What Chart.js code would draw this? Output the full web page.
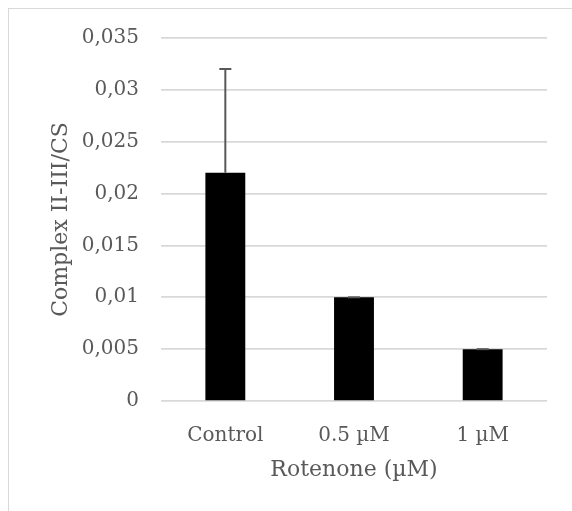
<!DOCTYPE html>
<html>
<head>
<meta charset="utf-8">
<script src="https://cdn.jsdelivr.net/npm/chart.js@4"></script>
<style>
  html, body { margin: 0; padding: 0; background: #fff; overflow: hidden; }
  #frame { position: absolute; left: 8px; top: 8px; width: 600px; height: 540px; border: 1px solid #d9d9d9; }
  #chart { position: absolute; left: 0; top: 0; }
</style>
</head>
<body>
<div id="frame"></div>
<canvas id="chart" width="572" height="511"></canvas>
<script>
const categories = ['Control', '0.5 µM', '1 µM'];
const values = [0.022, 0.01, 0.005];
const errorsUp = [0.01, 0, 0];
const yTicks = [0, 0.005, 0.01, 0.015, 0.02, 0.025, 0.03, 0.035];

const textColor = '#595959';
const font = 'DejaVu Serif';

// draws the upper error bars with caps
const errorBars = {
    id: 'errorBars',
    afterDatasetsDraw(chart) {
        const ctx = chart.ctx;
        const y = chart.scales.y;
        const meta = chart.getDatasetMeta(0);
        ctx.save();
        ctx.strokeStyle = '#595959';
        ctx.lineWidth = 2;
        meta.data.forEach((bar, i) => {
            const top = y.getPixelForValue(values[i] + errorsUp[i]);
            const base = y.getPixelForValue(values[i]);
            ctx.beginPath();
            ctx.moveTo(bar.x, base);
            ctx.lineTo(bar.x, top);
            ctx.moveTo(bar.x - 6, top);
            ctx.lineTo(bar.x + 6, top);
            ctx.stroke();
        });
        ctx.restore();
    }
};

new Chart(document.getElementById('chart'), {
    type: 'bar',
    data: {
        labels: categories,
        datasets: [{
            data: values,
            backgroundColor: '#000',
            barPercentage: 0.31,
            categoryPercentage: 1
        }]
    },
    options: {
        responsive: false,
        animation: false,
        layout: { padding: { top: 38, right: 25, left: 0, bottom: 0 } },
        plugins: { legend: { display: false }, tooltip: { enabled: false } },
        scales: {
            x: {
                grid: { display: false },
                border: { display: false },
                ticks: { color: textColor, font: { family: font, size: 20 }, padding: 15 },
                title: {
                    display: true, text: 'Rotenone (µM)', color: textColor,
                    font: { family: font, size: 22 }, padding: { bottom: 28, top: 0 }
                },
                afterFit(scale) { scale.height = 110; }
            },
            y: {
                min: 0, max: 0.035,
                afterBuildTicks(scale) { scale.ticks = yTicks.map(v => ({ value: v })); },
                grid: { color: '#d9d9d9', lineWidth: 1.75, drawTicks: false },
                border: { display: false },
                ticks: {
                    color: textColor, font: { family: font, size: 20 }, padding: 22,
                    callback: v => String(Number(v.toFixed(3))).replace('.', ',')
                },
                title: {
                    display: true, text: 'Complex II-III/CS', color: textColor,
                    font: { family: font, size: 22 }, padding: { top: 48, bottom: 0 }
                },
                afterFit(scale) { scale.width = 161; }
            }
        }
    },
    plugins: [errorBars]
});
</script>
</body>
</html>
